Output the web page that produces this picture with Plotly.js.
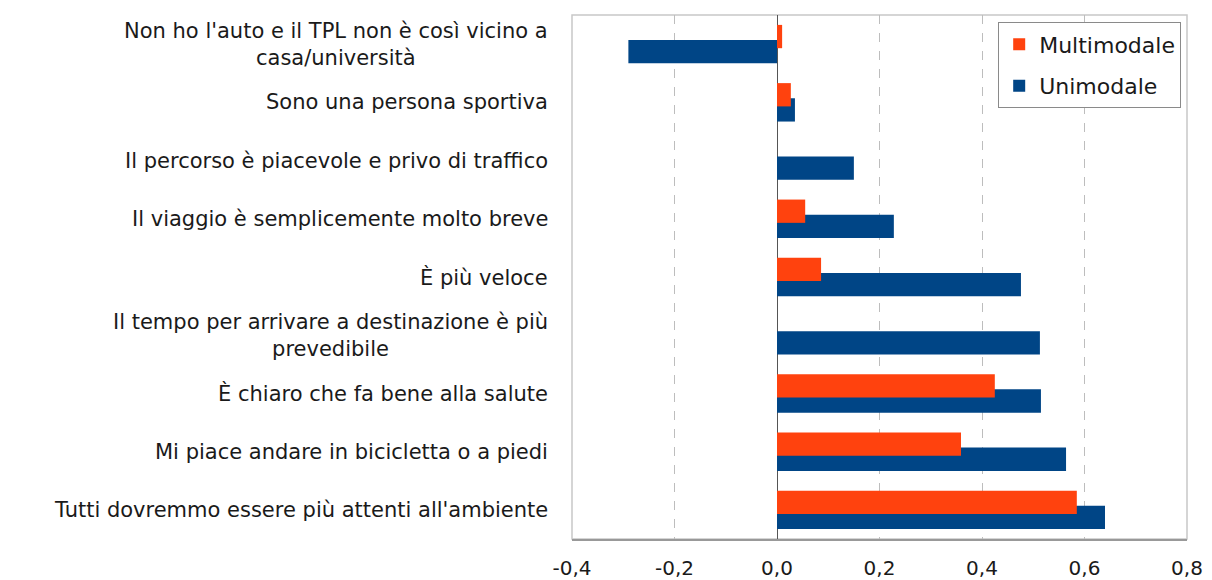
<!DOCTYPE html>
<html><head><meta charset="utf-8">
<script src="https://cdn.plot.ly/plotly-3.0.1.min.js"></script>
<style>body{margin:0;background:#fff}#chart{width:1212px;height:580px}</style>
</head><body><div id="chart"></div>
<script>
const categories = [
  "Non ho l'auto e il TPL non è così vicino a<br>casa/università",
  "Sono una persona sportiva",
  "Il percorso è piacevole e privo di traffico",
  "Il viaggio è semplicemente molto breve",
  "È più veloce",
  "Il tempo per arrivare a destinazione è più<br>prevedibile",
  "È chiaro che fa bene alla salute",
  "Mi piace andare in bicicletta o a piedi",
  "Tutti dovremmo essere più attenti all'ambiente"
];
const multimodale = [0.01, 0.027, 0, 0.055, 0.086, 0, 0.425, 0.359, 0.585];
const unimodale = [-0.29, 0.035, 0.15, 0.228, 0.476, 0.513, 0.515, 0.564, 0.64];
const tickVals = [-0.4, -0.2, 0, 0.2, 0.4, 0.6, 0.8];
const tickText = ["-0,4", "-0,2", "0,0", "0,2", "0,4", "0,6", "0,8"];

const FONT = "'DejaVu Sans', sans-serif";
const traces = [
  {type:'bar', orientation:'h', name:'Unimodale', y:categories, x:unimodale,
   marker:{color:'#004586'}, offset:-0.07, width:0.4, legendrank:2, legendgroup:'u'},
  {type:'bar', orientation:'h', name:'Multimodale', y:categories, x:multimodale,
   marker:{color:'#ff420e'}, offset:-0.33, width:0.4, legendrank:1, legendgroup:'m'}
];
const annotations = categories.map(c => ({
  x:-0.036, xref:'paper', y:c, yref:'y', text:c, showarrow:false,
  xanchor:'right', yanchor:'middle', align:'center',
  font:{family:FONT, size:21, color:'#1a1a1a'}
}));
const layout = {
  width:1212, height:580,
  margin:{l:572, r:25, t:15, b:41},
  paper_bgcolor:'#fff', plot_bgcolor:'#fff',
  barmode:'overlay',
  font:{family:FONT, size:20, color:'#1a1a1a'},
  xaxis:{range:[-0.4,0.8], tickvals:tickVals, ticktext:tickText,
    showgrid:true, gridcolor:'#bdbdbd', griddash:'dash', gridwidth:1,
    zeroline:true, zerolinecolor:'#555', zerolinewidth:1,
    showline:true, linecolor:'#999', linewidth:1.5,
    ticks:'outside', ticklen:10, tickcolor:'rgba(0,0,0,0)',
    tickfont:{size:20, color:'#1a1a1a'}, fixedrange:true},
  yaxis:{type:'category', autorange:'reversed', showticklabels:false,
    showgrid:false, zeroline:false, showline:false, ticks:''},
  legend:{x:0.693, y:0.986, xanchor:'left', yanchor:'top',
    bordercolor:'#8a8a8a', borderwidth:1, bgcolor:'#fff',
    font:{family:FONT, size:22, color:'#1a1a1a'},
    traceorder:'grouped', tracegroupgap:10},
  shapes:[{type:'rect', xref:'paper', yref:'paper', x0:0, x1:1, y0:0, y1:1,
    line:{color:'#c8c8c8', width:1.5}, layer:'below'}],
  annotations:annotations,
  showlegend:true
};
Plotly.newPlot('chart', traces, layout, {displayModeBar:false, staticPlot:true});
</script></body></html>
